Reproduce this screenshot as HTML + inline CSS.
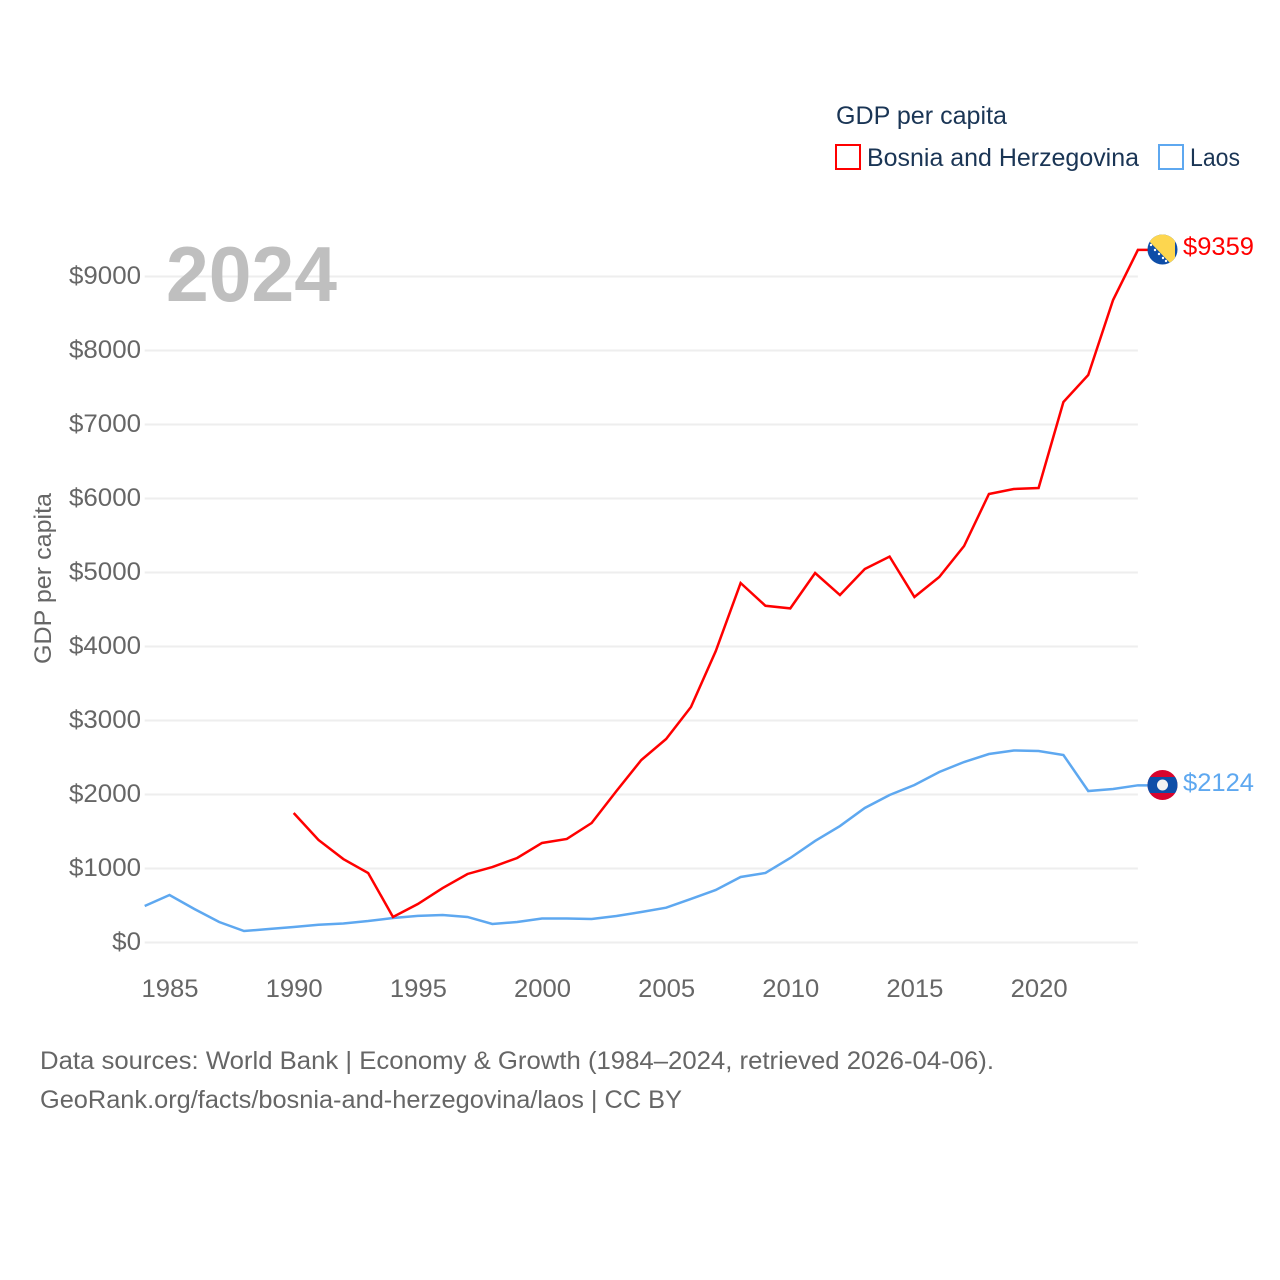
<!DOCTYPE html>
<html lang="en">
<head>
<meta charset="utf-8">
<title>GDP per capita: Bosnia and Herzegovina and Laos</title>
<style>
html,body{margin:0;padding:0;background:#fff}
svg{display:block}
text{font-family:"Liberation Sans",sans-serif}
</style>
</head>
<body>
<svg id="chart" xmlns="http://www.w3.org/2000/svg" width="1280" height="1280" viewBox="0 0 1280 1280">
  <rect width="1280" height="1280" fill="#fff"/>
  <g id="grid"></g>
  <g id="yticks"></g>
  <g id="xticks"></g>
  <text x="166" y="301" font-size="78" font-weight="700" fill="#bfbfbf" textLength="171" lengthAdjust="spacingAndGlyphs">2024</text>
  <text transform="translate(51,664) rotate(-90)" font-size="24" fill="#666" textLength="171" lengthAdjust="spacingAndGlyphs">GDP per capita</text>
  <g id="series"></g>
  <g>
    <clipPath id="clipBa"><circle cx="1162.5" cy="249.5" r="15"/></clipPath>
    <g clip-path="url(#clipBa)">
      <rect x="1147" y="234" width="31" height="31" fill="#0f4ea8"/>
      <polygon points="1148,234 1175,234 1175,265 1172,265 1148,240" fill="#fdd64f"/>
      <g fill="#fff">
        <circle cx="1151" cy="245" r="1.2"/><circle cx="1155" cy="250" r="1.2"/><circle cx="1159" cy="254" r="1.2"/><circle cx="1163" cy="258" r="1.2"/><circle cx="1166" cy="261" r="1.2"/>
      </g>
    </g>
  </g>
  <g>
    <clipPath id="clipLa"><circle cx="1162.5" cy="785" r="15"/></clipPath>
    <g clip-path="url(#clipLa)">
      <rect x="1147" y="769" width="31" height="32" fill="#d9052e"/>
      <rect x="1147" y="777" width="31" height="16" fill="#0f4ea8"/>
      <circle cx="1162.5" cy="785" r="5.5" fill="#f2f2f2"/>
    </g>
  </g>
  <text x="1183" y="255" font-size="25" fill="#ff0000" textLength="71" lengthAdjust="spacingAndGlyphs">$9359</text>
  <text x="1183" y="791" font-size="25" fill="#5ea8f0" textLength="71" lengthAdjust="spacingAndGlyphs">$2124</text>
  <g>
    <text x="836" y="124" font-size="25" fill="#1a3555" textLength="171" lengthAdjust="spacingAndGlyphs">GDP per capita</text>
    <rect x="836" y="145" width="24" height="24" fill="none" stroke="#ff0000" stroke-width="2"/>
    <text x="867" y="166" font-size="25" fill="#1a3555" textLength="272" lengthAdjust="spacingAndGlyphs">Bosnia and Herzegovina</text>
    <rect x="1159" y="145" width="24" height="24" fill="none" stroke="#5ea8f0" stroke-width="2"/>
    <text x="1190" y="166" font-size="25" fill="#1a3555" textLength="50" lengthAdjust="spacingAndGlyphs">Laos</text>
  </g>
  <text x="40" y="1069" font-size="25" fill="#666" textLength="954" lengthAdjust="spacingAndGlyphs">Data sources: World Bank | Economy &amp; Growth (1984–2024, retrieved 2026-04-06).</text>
  <text x="40" y="1108" font-size="25" fill="#666" textLength="642" lengthAdjust="spacingAndGlyphs">GeoRank.org/facts/bosnia-and-herzegovina/laos | CC BY</text>
</svg>
<script>
const years = [1984,1985,1986,1987,1988,1989,1990,1991,1992,1993,1994,1995,1996,1997,1998,1999,2000,2001,2002,2003,2004,2005,2006,2007,2008,2009,2010,2011,2012,2013,2014,2015,2016,2017,2018,2019,2020,2021,2022,2023,2024];
const bosniaValues = [null,null,null,null,null,null,1750,1385,1128,939,345,520,736,926,1020,1142,1345,1399,1615,2047,2466,2750,3182,3939,4858,4550,4515,4993,4696,5047,5215,4669,4939,5358,6061,6128,6142,7304,7669,8682,9359];
const laosValues = [493,642,453,277,155,182,210,240,257,290,331,360,372,345,250,277,324,325,318,358,412,470,588,710,885,940,1142,1372,1574,1818,1993,2128,2304,2439,2547,2595,2588,2534,2047,2074,2124];
const yTickValues = [0,1000,2000,3000,4000,5000,6000,7000,8000,9000];
const xTickYears = [1985,1990,1995,2000,2005,2010,2015,2020];

const xScale = function (year) { return 144.7 + (year - 1984) * 24.83; };
const yScale = function (value) { return 942.5 - value * 0.074; };
const NS = 'http://www.w3.org/2000/svg';

const grid = document.getElementById('grid');
const yticks = document.getElementById('yticks');
yTickValues.forEach(function (v) {
  const line = document.createElementNS(NS, 'line');
  
  
  line.setAttribute('x1', xScale(1984));
  line.setAttribute('x2', xScale(2024));
  line.setAttribute('y1', yScale(v));
  line.setAttribute('y2', yScale(v));
  line.setAttribute('stroke', '#eeeeee');
  line.setAttribute('stroke-width', '2');
  grid.appendChild(line);

  const label = '$' + v;
  const t = document.createElementNS(NS, 'text');
  
  
  t.setAttribute('x', 141 - 14.4 * label.length);
  t.setAttribute('y', yScale(v) + 7.5);
  t.setAttribute('font-size', '25');
  t.setAttribute('fill', '#666');
  t.setAttribute('textLength', 14.4 * label.length);
  t.setAttribute('lengthAdjust', 'spacingAndGlyphs');
  t.textContent = label;
  yticks.appendChild(t);
});

const xticks = document.getElementById('xticks');
xTickYears.forEach(function (y) {
  const t = document.createElementNS(NS, 'text');
  
  
  t.setAttribute('x', xScale(y) - 28);
  t.setAttribute('y', 997);
  t.setAttribute('font-size', '25');
  t.setAttribute('fill', '#666');
  t.setAttribute('textLength', '57');
  t.setAttribute('lengthAdjust', 'spacingAndGlyphs');
  t.textContent = y;
  xticks.appendChild(t);
});

const seriesGroup = document.getElementById('series');
function drawSeries(values, color, name) {
  let d = '';
  let lastValue = null;
  values.forEach(function (v, i) {
    if (v === null) { return; }
    d += (d ? 'L' : 'M') + xScale(years[i]).toFixed(2) + ' ' + yScale(v).toFixed(2);
    lastValue = v;
  });
  d += 'L1148 ' + yScale(lastValue).toFixed(2);
  const p = document.createElementNS(NS, 'path');
  
  
  p.setAttribute('d', d);
  p.setAttribute('fill', 'none');
  p.setAttribute('stroke', color);
  p.setAttribute('stroke-width', '2.5');
  p.setAttribute('stroke-linejoin', 'miter');
  seriesGroup.appendChild(p);
}
drawSeries(laosValues, '#5ea8f0', 'laos-line');
drawSeries(bosniaValues, '#ff0000', 'bosnia-line');
</script>
</body>
</html>
